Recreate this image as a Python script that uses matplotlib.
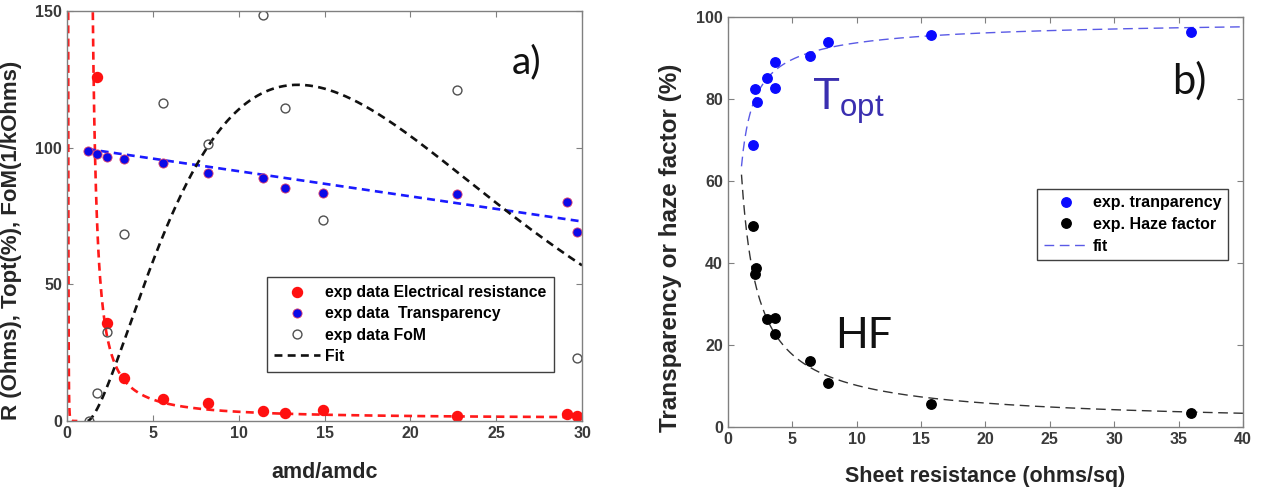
import numpy as np
import matplotlib
matplotlib.use("Agg")
import matplotlib.pyplot as plt

plt.rcParams['font.family'] = ['Liberation Sans', 'DejaVu Sans']
plt.rcParams['mathtext.fontset'] = 'custom'
plt.rcParams['mathtext.rm'] = 'Lato'
plt.rcParams['mathtext.it'] = 'Lato'

# ---- panel a) data ----
amd = [1.74, 2.3, 3.3, 5.6, 8.2, 11.4, 12.7, 14.9, 22.7, 29.1, 29.7]
resistance = [126, 36, 15.7, 8, 6.5, 3.7, 2.8, 4.0, 1.9, 2.5, 1.9]
amd_t = [1.22, 1.74, 2.3, 3.3, 5.6, 8.2, 11.4, 12.7, 14.9, 22.7, 29.1, 29.7]
transparency = [98.9, 97.8, 96.7, 96.0, 94.5, 90.8, 89.0, 85.4, 83.5, 83.0, 80.0, 69.0]
amd_f = [1.3, 1.74, 2.3, 3.3, 5.6, 8.2, 11.4, 12.7, 14.9, 22.7, 29.7]
fom = [0.0, 10.3, 32.6, 68.5, 116.5, 101.5, 148.7, 114.6, 73.6, 121.0, 23.0]

# ---- panel b) data ----
sheet_t = [1.94, 2.1, 2.25, 3.0, 3.65, 3.65, 6.37, 7.77, 15.8, 35.96]
t_opt = [68.8, 82.4, 79.3, 85.1, 89.0, 82.7, 90.5, 93.9, 95.6, 96.3]
sheet_h = [1.94, 2.1, 2.2, 3.0, 3.65, 3.65, 6.37, 7.77, 15.8, 35.96]
haze = [49.0, 37.4, 38.8, 26.3, 26.6, 22.7, 16.1, 10.7, 5.6, 3.4]

tick_col = '#3a3a3a'
spine_col = '#808080'
lab_col = '#262626'

fig = plt.figure(figsize=(12.7, 4.9), dpi=100)
ax1 = fig.add_axes([0.0528, 0.1408, 0.4055, 0.8367])
ax2 = fig.add_axes([0.5732, 0.1286, 0.4055, 0.8367])

for ax in (ax1, ax2):
    for s in ax.spines.values():
        s.set_color(spine_col)
        s.set_linewidth(1.0)
    ax.tick_params(direction='in', top=True, right=True, length=4, width=0.8,
                   color=spine_col, labelcolor=tick_col, labelsize=11.5)

# ---- panel a) ----
dash = (0, (3, 2))
x_r = np.linspace(1.25, 30, 600)
r_fit = 35.0 / (x_r - 1.2) ** 1.2 + 0.8
x_r0 = np.linspace(0.02, 0.6, 200)
r_fit0 = 2e-4 / x_r0 ** 5
ax1.plot(x_r0, r_fit0, color='#ff1a1a', lw=1.9, ls=dash)
ax1.plot(x_r, r_fit, color='#ff1a1a', lw=1.9, ls=dash)

x_t = np.linspace(1.2, 30, 100)
ax1.plot(x_t, 100.6 - 0.92 * x_t, color='#1a1aff', lw=1.9, ls=dash)

x_f = np.linspace(1.2, 30, 400)
d = x_f - 1.2
f_fit = 123 * (d / 12.3) ** 1.55 * np.exp(-(d - 12.3) / 7.9)
ax1.plot(x_f, f_fit, color='#111111', lw=1.9, ls=dash)

ax1.plot(amd, resistance, 'o', color='#ff1010', ms=7.2, mec='#ff1010',
         label='exp data Electrical resistance')
ax1.plot(amd_t, transparency, 'o', color='#0a0ae8', ms=6.6, mec='#e0406a',
         mew=0.6, label='exp data  Transparency')
ax1.plot(amd_f, fom, 'o', mfc='none', mec='#505050', ms=6.4, mew=1.0,
         label='exp data FoM')
ax1.plot([], [], color='#111111', lw=1.9, ls=dash, label='Fit')

ax1.set_xlim(0, 30)
ax1.set_ylim(0, 150)
ax1.set_xticks([0, 5, 10, 15, 20, 25, 30])
ax1.set_yticks([0, 50, 100, 150])
ax1.set_xlabel('amd/amdc', fontsize=15.5, fontweight='bold', color=lab_col)
ax1.set_ylabel('R (Ohms), Topt(%), FoM(1/kOhms)', fontsize=16,
               fontweight='bold', color=lab_col)
ax1.xaxis.set_label_coords(0.5, -0.1)
ax1.yaxis.set_label_coords(-0.088, 0.44)
leg1 = ax1.legend(loc='lower right', bbox_to_anchor=(0.945, 0.12),
                  fancybox=False, framealpha=1, edgecolor='#404040',
                  prop=dict(family='Liberation Sans', weight='bold', size=11.3),
                  handlelength=2.9, handletextpad=0.3, borderpad=0.5,
                  labelspacing=0.4, borderaxespad=0)
leg1.get_frame().set_linewidth(1.0)
ax1.text(0.864, 0.847, 'a)', transform=ax1.transAxes, fontsize=28,
         family='Lato', color='#111111', va='baseline')

# ---- panel b) ----
x_b = np.linspace(1.05, 40, 600)
t_fit = 100 - 29.9 / (x_b - 0.3) ** 0.686
h_fit = 64.0 / x_b ** 0.8
ax2.plot(x_b, t_fit, color='#5a5ae6', lw=1.0, ls=(0, (7, 4)))
ax2.plot(x_b, h_fit, color='#333333', lw=1.0, ls=(0, (7, 4)))
ax2.plot(sheet_t, t_opt, 'o', color='#0a0aff', ms=6.8, label='exp. tranparency')
ax2.plot(sheet_h, haze, 'o', color='#000000', ms=6.8, label='exp. Haze factor')
ax2.plot([], [], color='#5a5ae6', lw=1.0, ls=(0, (7, 4)), label='fit')

ax2.set_xlim(0, 40)
ax2.set_ylim(0, 100)
ax2.set_xticks(range(0, 41, 5))
ax2.set_yticks(range(0, 101, 20))
ax2.set_xlabel('Sheet resistance (ohms/sq)', fontsize=15.5, fontweight='bold',
               color=lab_col)
ax2.set_ylabel('Transparency or haze factor (%)', fontsize=17.5,
               fontweight='bold', color=lab_col)
ax2.xaxis.set_label_coords(0.5, -0.095)
ax2.yaxis.set_label_coords(-0.09, 0.437)
leg2 = ax2.legend(loc='lower right', bbox_to_anchor=(0.971, 0.407),
                  fancybox=False, framealpha=1, edgecolor='#404040',
                  prop=dict(family='Liberation Sans', weight='bold', size=11.5),
                  handlelength=2.8, handletextpad=0.3, borderpad=0.4,
                  labelspacing=0.42, borderaxespad=0)
leg2.get_frame().set_linewidth(1.0)
ax2.text(0.862, 0.812, 'b)', transform=ax2.transAxes, fontsize=30,
         family='Lato', color='#111111', va='baseline')
ax2.text(0.163, 0.773, r'$\mathregular{T_{opt}}$', transform=ax2.transAxes,
         fontsize=32, color='#3a2fb0', va='baseline')
ax2.text(0.208, 0.193, 'HF', transform=ax2.transAxes, fontsize=31,
         family='Lato', color='#111111', va='baseline')

for ax in (ax1, ax2):
    for lbl in ax.get_xticklabels() + ax.get_yticklabels():
        lbl.set_fontweight('bold')

fig.savefig('out.png', dpi=100)
